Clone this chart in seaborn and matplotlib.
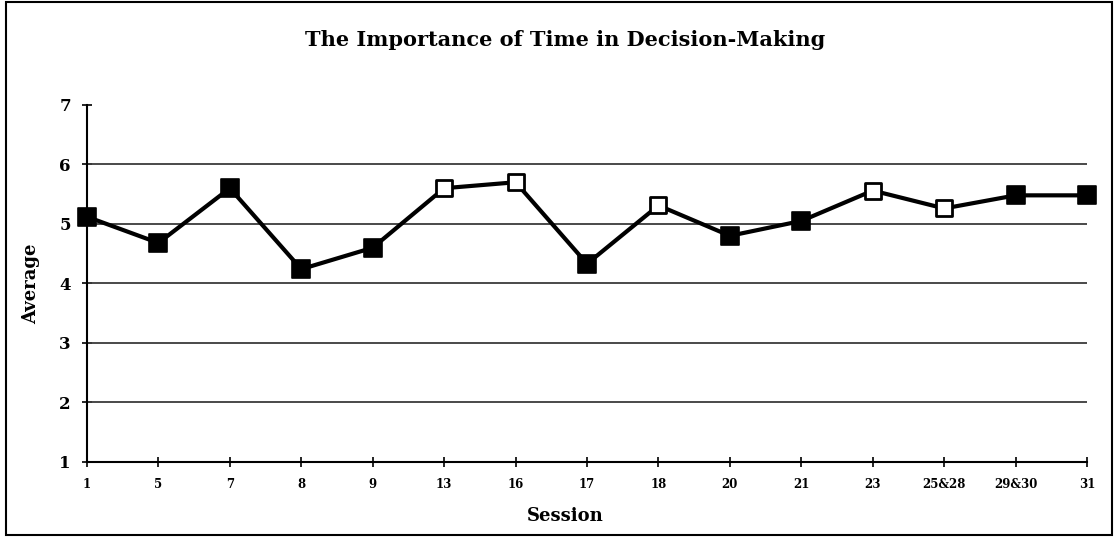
import numpy as np
import pandas as pd
import matplotlib
matplotlib.use("Agg")
import matplotlib.pyplot as plt
import seaborn as sns
from matplotlib.patches import Rectangle

# Dati
sessions = ['1', '5', '7', '8', '9', '13', '16', '17', '18', '20', '21', '23',
            '25&28', '29&30', '31']
averages = [5.12, 4.68, 5.60, 4.24, 4.60, 5.60, 5.70, 4.33, 5.31, 4.80, 5.05,
            5.56, 5.26, 5.48, 5.48]
# True = quadrato pieno, False = quadrato vuoto
filled = [True, True, True, True, True, False, False, True, False, True, True,
          False, False, True, True]

df = pd.DataFrame({'pos': np.arange(len(sessions)), 'session': sessions,
                   'avg': averages, 'filled': filled})

sns.set_style('white')
plt.rcParams['font.family'] = ['DejaVu Serif']
plt.rcParams['text.color'] = 'black'
plt.rcParams['axes.labelcolor'] = 'black'

fig = plt.figure(figsize=(11.15, 5.37), dpi=100)
ax = fig.add_axes([0.078, 0.1397, 0.897, 0.665])

# Griglia orizzontale
for y in [2, 3, 4, 5, 6]:
    ax.axhline(y, color='#3a3a3a', lw=1.3, zorder=1)

sns.lineplot(data=df, x='pos', y='avg', color='black', lw=3, ax=ax,
             zorder=3, legend=False)
sns.scatterplot(data=df[df['filled']], x='pos', y='avg', marker='s', s=160,
                color='black', edgecolor='black', linewidth=1.2, ax=ax,
                zorder=4, legend=False, clip_on=False)
sns.scatterplot(data=df[~df['filled']], x='pos', y='avg', marker='s', s=140,
                color='white', edgecolor='black', linewidth=2, ax=ax,
                zorder=4, legend=False, clip_on=False)

ax.set_xlim(0, len(sessions) - 1)
ax.set_ylim(1, 7)
ax.set_xticks(df['pos'])
ax.set_xticklabels(sessions, fontsize=8.5, fontweight='bold')
ax.set_yticks([1, 2, 3, 4, 5, 6, 7])
ax.set_yticklabels([str(v) for v in range(1, 8)], fontsize=12, fontweight='bold')
ax.tick_params(axis='both', direction='inout', length=7, width=1.2,
               colors='black', left=True, bottom=True)
ax.tick_params(axis='x', pad=8)
ax.tick_params(axis='y', pad=8)

for s in ['top', 'right']:
    ax.spines[s].set_visible(False)
for s in ['left', 'bottom']:
    ax.spines[s].set_color('black')
    ax.spines[s].set_linewidth(1.5)

ax.set_xlabel('Session', fontsize=13, fontweight='bold')
ax.xaxis.set_label_coords(0.478, -0.125)
ax.set_ylabel('Average', fontsize=13, fontweight='bold', labelpad=14)
fig.text(0.507, 0.925, 'The Importance of Time in Decision-Making',
         ha='center', va='center', fontsize=15, fontweight='bold')

# Cornice esterna
fig.patches.append(Rectangle((0.005, 0.004), 0.992, 0.992, transform=fig.transFigure,
                             fill=False, edgecolor='black', lw=1.5))

fig.savefig('out.png', dpi=100)
